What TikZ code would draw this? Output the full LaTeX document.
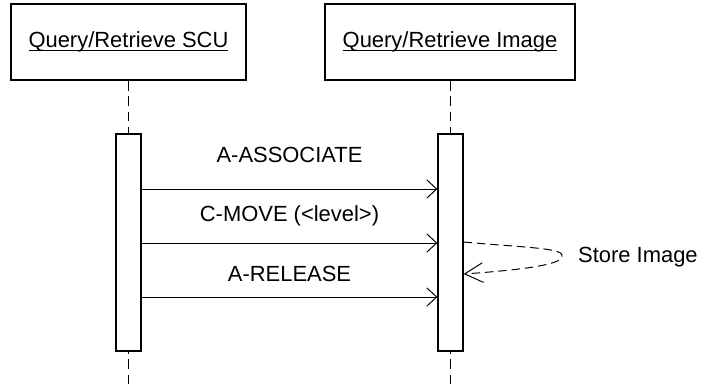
\documentclass[tikz,border=0pt]{standalone}
\usepackage{fontspec}
\setmainfont{Liberation Sans}
\usetikzlibrary{positioning,arrows.meta}

% underline set close to the baseline
\newcommand{\ultext}[1]{\setbox0\hbox{#1}\rlap{\rule[-2.2pt]{\wd0}{0.8pt}}\box0}

\tikzset{
  obj/.style={draw,line width=1pt,minimum height=1.9cm,inner sep=0pt},
  actbar/.style={draw,line width=0.9pt,fill=white,minimum width=0.625cm,minimum height=5.425cm,inner sep=0pt},
  life/.style={line width=0.8pt,dash pattern=on 7pt off 4pt},
  msg/.style={line width=0.7pt,-{Straight Barb[length=7pt,width=13pt]}},
  selfmsg/.style={line width=0.7pt,dash pattern=on 6pt off 3.5pt,-{Straight Barb[length=13pt,width=14pt]}}
}

\begin{document}
\begin{tikzpicture}[x=0.025cm,y=-0.025cm,node distance=0.28cm,
    every node/.style={font=\fontsize{15.6}{18}\selectfont}]
    \useasboundingbox (0,0) rectangle (701,385);
    % objects
    \node[obj,minimum width=5.875cm] (scu) at (128.5,42) {\ultext{Query/Retrieve SCU}};
    \node[obj,minimum width=6.25cm] (img) at (450,42) {\ultext{Query/Retrieve Image}};
    \coordinate (scuend) at (128.5,385);
    \coordinate (imgend) at (450.5,385);
    % lifelines
    \draw[life] (scu) -- (scuend);
    \draw[life] (img.south -| imgend) -- (imgend);
    \node[actbar] (scubar) at (128.5,242.5) {};
    \node[actbar] (imgbar) at (450.5,242.5) {};
    % messages
    \coordinate (m1) at (0,189);
    \coordinate (m2) at (0,243);
    \coordinate (m3) at (0,297);
    \draw[msg] (scubar.east |- m1) -- (imgbar.west |- m1)
        node[midway,anchor=base,yshift=18.5pt] (assoc) {A-ASSOCIATE};
    \draw[msg] (scubar.east |- m2) -- (imgbar.west |- m2)
        node[midway,anchor=base,yshift=15pt] (move) {C-MOVE (<level>)};
    \draw[msg] (scubar.east |- m3) -- (imgbar.west |- m3)
        node[midway,anchor=base,yshift=10.7pt] (release) {A-RELEASE};
    % self message
    \coordinate (s1) at (0,242);
    \coordinate (s2) at (0,274);
    \coordinate (loop) at (562,257);
    \draw[selfmsg] (imgbar.east |- s1) .. controls (530,248) and (566,248) .. (loop)
        .. controls (560,265) and (520,270) .. (imgbar.east |- s2);
    \node[right=of loop,anchor=west] (store) {Store Image};
\end{tikzpicture}
\end{document}
